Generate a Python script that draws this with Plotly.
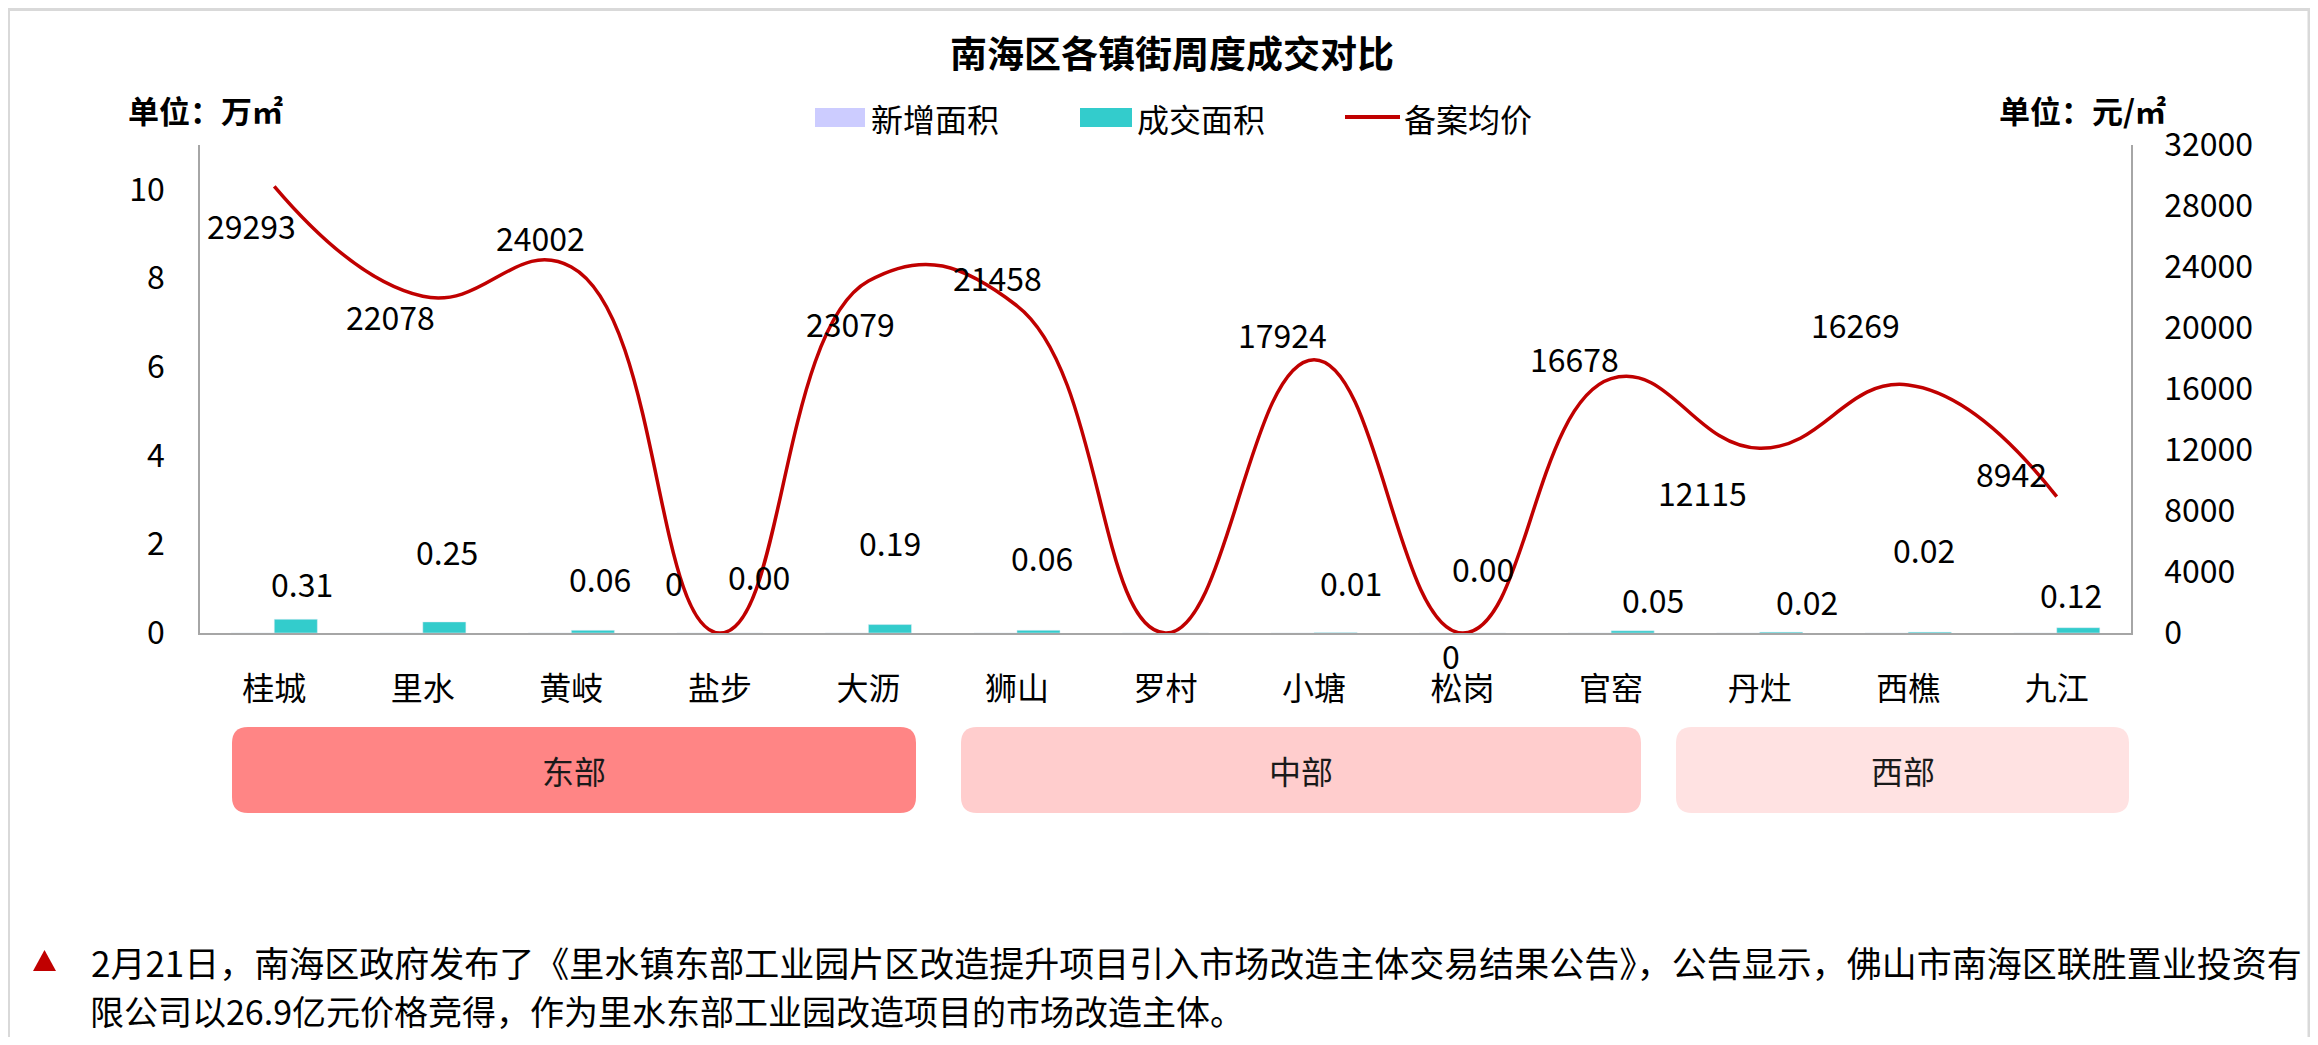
import plotly.graph_objects as go

# ---------------- data ----------------
towns = ["桂城", "里水", "黄岐", "盐步", "大沥", "狮山", "罗村", "小塘", "松岗", "官窑", "丹灶", "西樵", "九江"]
new_area = [0, 0, 0, 0, 0, 0, 0, 0, 0, 0, 0, 0, 0]
deal_area = [0.31, 0.25, 0.06, 0.00, 0.19, 0.06, 0.00, 0.01, 0.00, 0.05, 0.02, 0.02, 0.12]
avg_price = [29293, 22078, 24002, 0, 23079, 21458, 0, 17924, 0, 16678, 12115, 16269, 8942]
regions = ["东部", "中部", "西部"]
title_text = "南海区各镇街周度成交对比"
note_line1 = "2月21日，南海区政府发布了《里水镇东部工业园片区改造提升项目引入市场改造主体交易结果公告》，公告显示，佛山市南海区联胜置业投资有"
note_line2 = "限公司以26.9亿元价格竞得，作为里水东部工业园改造项目的市场改造主体。"

# ---------------- layout constants ----------------
# the page body adds an 8px margin, so the figure is drawn 8px in from the window corner
OFF = 8
W, H = 2318 - 2 * OFF, 1045 - 2 * OFF
# plot area in window pixels
L, R, T, B = 200, 2131, 145, 633
FONT = "Noto Sans CJK SC"

def fx(px):
    return (px - L) / (R - L)

def fy(py):
    return (B - py) / (B - T)

# label placement (pixel offsets, right/up positive); None = no label
price_label_offsets = [(-23, -39), (-32, -20), (-31, 30), (-46, 51), (-18, -42), (-19, 29), None,
                       (-32, 26), (-12, -22), (-37, 21), (-57, -44), (-53, 61), (-45, 24)]
bar_label_offsets = [(28, 36), (24, 71), (29, 52), (39, 57), (22, 83), (25, 73), None,
                     (37, 51), (20, 65), (42, 32), (47, 31), (16, 83), (14, 34)]
region_boxes_px = [(232, 916), (961, 1641), (1676, 2129)]
region_colors = ["#FF8585", "#FFCDCD", "#FFE2E2"]
BOX_TOP, BOX_BOT = 727, 813

fig = go.Figure()
fig.add_trace(go.Bar(x=towns, y=new_area, name="新增面积", marker_color="#CCCCFF",
                     yaxis="y", showlegend=False))
fig.add_trace(go.Bar(x=towns, y=deal_area, name="成交面积", marker_color="#33CCCC",
                     yaxis="y", showlegend=False))
fig.add_trace(go.Scatter(x=towns, y=avg_price, name="备案均价", mode="lines",
                         line=dict(color="#C00000", width=3.5, shape="spline", smoothing=1.3),
                         yaxis="y2", showlegend=False, cliponaxis=False))

annotations = []
shapes = []

# data labels
for town, v, off in zip(towns, avg_price, price_label_offsets):
    if off is None:
        continue
    annotations.append(dict(x=town, y=v, xref="x", yref="y2", text=str(v), showarrow=False,
                            xshift=off[0], yshift=off[1], font=dict(size=32, color="#000000", family=FONT)))
for town, v, off in zip(towns, deal_area, bar_label_offsets):
    if off is None:
        continue
    annotations.append(dict(x=town, y=v, xref="x", yref="y", text=f"{v:.2f}", showarrow=False,
                            xshift=off[0], yshift=off[1], font=dict(size=32, color="#000000", family=FONT)))

# title
annotations.append(dict(x=fx(1172), y=fy(52), xref="paper", yref="paper", text="<b>" + title_text + "</b>",
                        showarrow=False, xanchor="center", yanchor="middle",
                        font=dict(size=37, color="#000000", family=FONT)))
# unit labels
annotations.append(dict(x=fx(126), y=fy(109), xref="paper", yref="paper", text="<b>单位：万㎡</b>",
                        showarrow=False, xanchor="left", yanchor="middle",
                        font=dict(size=31, color="#000000", family=FONT)))
annotations.append(dict(x=fx(1997), y=fy(109), xref="paper", yref="paper", text="<b>单位：元/㎡</b>",
                        showarrow=False, xanchor="left", yanchor="middle",
                        font=dict(size=31, color="#000000", family=FONT)))

# custom legend
legend_y = 118
shapes.append(dict(type="rect", xref="paper", yref="paper", x0=fx(815), x1=fx(865), y0=fy(108), y1=fy(127),
                   fillcolor="#CCCCFF", line=dict(width=0)))
shapes.append(dict(type="rect", xref="paper", yref="paper", x0=fx(1080), x1=fx(1132), y0=fy(108), y1=fy(127),
                   fillcolor="#33CCCC", line=dict(width=0)))
shapes.append(dict(type="line", xref="paper", yref="paper", x0=fx(1345), x1=fx(1400), y0=fy(117), y1=fy(117),
                   line=dict(color="#C00000", width=4)))
for xpx, name in [(869, "新增面积"), (1135, "成交面积"), (1402, "备案均价")]:
    annotations.append(dict(x=fx(xpx), y=fy(legend_y), xref="paper", yref="paper", text=name, showarrow=False,
                            xanchor="left", yanchor="middle", font=dict(size=32, color="#000000", family=FONT)))

# region boxes
rad = 16
for (x0p, x1p), col, name in zip(region_boxes_px, region_colors, regions):
    rx = rad / (R - L)
    ry = rad / (B - T)
    X0, X1, Y0, Y1 = fx(x0p), fx(x1p), fy(BOX_BOT), fy(BOX_TOP)
    path = (f"M {X0+rx},{Y1} L {X1-rx},{Y1} Q {X1},{Y1} {X1},{Y1-ry} L {X1},{Y0+ry} "
            f"Q {X1},{Y0} {X1-rx},{Y0} L {X0+rx},{Y0} Q {X0},{Y0} {X0},{Y0+ry} "
            f"L {X0},{Y1-ry} Q {X0},{Y1} {X0+rx},{Y1} Z")
    shapes.append(dict(type="path", xref="paper", yref="paper", path=path, fillcolor=col,
                       line=dict(width=0), layer="below"))
    annotations.append(dict(x=(X0 + X1) / 2, y=fy((BOX_TOP + BOX_BOT) / 2), xref="paper", yref="paper",
                            text=name, showarrow=False, xanchor="center", yanchor="middle",
                            font=dict(size=32, color="#1A1A1A", family=FONT)))

# note with red triangle
shapes.append(dict(type="path", xref="paper", yref="paper",
                   path=f"M {fx(33)},{fy(971)} L {fx(56)},{fy(971)} L {fx(44.5)},{fy(950)} Z",
                   fillcolor="#C00000", line=dict(width=0)))
annotations.append(dict(x=fx(89), y=fy(961), xref="paper", yref="paper", text=note_line1, showarrow=False,
                        xanchor="left", yanchor="middle", font=dict(size=35, color="#000000", family=FONT)))
annotations.append(dict(x=fx(89), y=fy(1010), xref="paper", yref="paper", text=note_line2, showarrow=False,
                        xanchor="left", yanchor="middle", borderpad=0,
                        font=dict(size=34, color="#000000", family=FONT)))

# outer frame
shapes.append(dict(type="rect", xref="paper", yref="paper", x0=fx(8.5), x1=fx(2309), y0=fy(9.5), y1=fy(1060),
                   line=dict(color="#D9D9D9", width=3), fillcolor="rgba(0,0,0,0)", layer="below"))

fig.update_layout(
    width=W, height=H,
    margin=dict(l=L - OFF, r=W - (R - OFF), t=T - OFF, b=H - (B - OFF), pad=0),
    paper_bgcolor="#FFFFFF", plot_bgcolor="rgba(0,0,0,0)",
    barmode="group", bargap=0.42, bargroupgap=0,
    font=dict(family=FONT, size=32, color="#000000"),
    showlegend=False,
    xaxis=dict(type="category", showline=True, linecolor="#A6A6A6", linewidth=2, showgrid=False,
               ticks="", tickfont=dict(size=32, family=FONT), ticklabelstandoff=27, zeroline=False),
    yaxis=dict(range=[0, 11], tickvals=[0, 2, 4, 6, 8, 10], showline=True, linecolor="#A6A6A6", linewidth=1.5,
               showgrid=False, ticks="", zeroline=False, tickfont=dict(size=32, family=FONT),
               ticklabelstandoff=27),
    yaxis2=dict(range=[0, 32000], dtick=4000, overlaying="y", side="right", showline=True,
                linecolor="#A6A6A6", linewidth=1.5, showgrid=False, ticks="", zeroline=False,
                tickfont=dict(size=32, family=FONT), ticklabelstandoff=25, tickformat="d"),
    annotations=annotations,
    shapes=shapes,
)

fig.write_html("out.html")
